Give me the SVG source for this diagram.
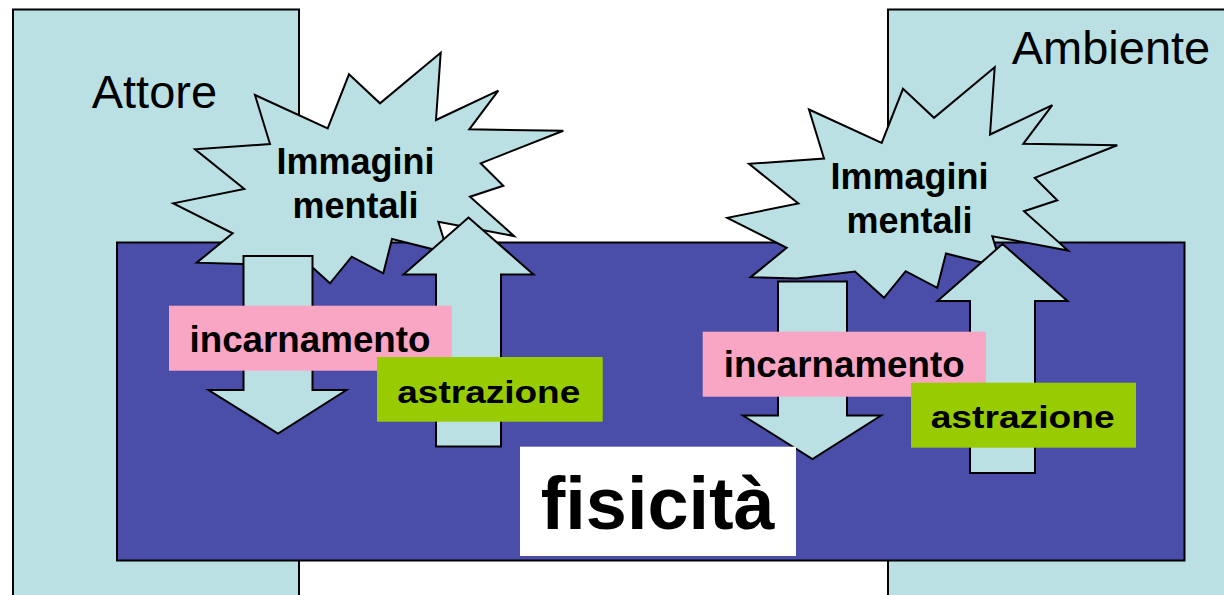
<svg xmlns="http://www.w3.org/2000/svg" xmlns:xlink="http://www.w3.org/1999/xlink" width="1224" height="595" viewBox="0 0 1224 595">
<style>
.cy{fill:#BBE0E3;stroke:#000;stroke-width:2;stroke-linejoin:miter}
.pu{fill:#4A4EA8;stroke:#000;stroke-width:2}
.pink{fill:#F8A6C3}
.green{fill:#99CC00}
.t{font-family:"Liberation Sans",Arial,sans-serif;fill:#000}
.b{font-weight:bold}
</style>
<defs>
<polygon id="star" points="255,95 327.7,128.3 349,74.3 380,103.3 440.7,52.7 436,120 498.3,90.7 469.3,129.3 563.3,130.7 480.7,163.3 503.3,185.7 470,196.7 514,236 438.3,221.7 448,253 392,239 383.3,273.3 351.7,256.7 330,283.3 301,257 243,264 196.7,262.7 232.7,233.3 173.3,203.3 244.3,189 195,149.3 270,144"/>
<polygon id="down" points="243.5,256 312.5,256 312.5,390 346.5,390 278,433.5 208.5,390 243.5,390"/>
<polygon id="up" points="468.5,217.5 533.5,274.5 501,274.5 501,446.5 436,446.5 436,274.5 403.5,274.5"/>
</defs>
<rect width="1224" height="595" fill="#fff"/>
<g id="attore">
<rect class="cy" x="13" y="9.5" width="286" height="600"/>
<text class="t" x="91.7" y="108.3" font-size="47">Attore</text>
</g>
<g id="ambiente">
<rect class="cy" x="888" y="9.5" width="340" height="600"/>
<text class="t" x="1011.7" y="64" font-size="47">Ambiente</text>
</g>
<g id="fisicita-area">
<rect class="pu" x="117" y="242.5" width="1067.5" height="318"/>
</g>
<g id="immagini-left">
<use href="#star" xlink:href="#star" class="cy"/>
<text class="t b" x="355.5" y="174" font-size="36" text-anchor="middle">Immagini</text>
<text class="t b" x="355.5" y="218.3" font-size="36" text-anchor="middle">mentali</text>
</g>
<g id="immagini-right" transform="translate(554,14.5)">
<use href="#star" xlink:href="#star" class="cy"/>
<text class="t b" x="355.5" y="174" font-size="36" text-anchor="middle">Immagini</text>
<text class="t b" x="355.5" y="218.3" font-size="36" text-anchor="middle">mentali</text>
</g>
<g id="connectors">
<use href="#down" xlink:href="#down" class="cy"/>
<use href="#up" xlink:href="#up" class="cy"/>
<use href="#down" xlink:href="#down" class="cy" transform="translate(534.5,25.5)"/>
<use href="#up" xlink:href="#up" class="cy" transform="translate(534,26.5)"/>
</g>
<g id="incarnamento-left">
<rect class="pink" x="169" y="305.7" width="282.7" height="65"/>
<text class="t b" x="310" y="351.7" font-size="36" text-anchor="middle" textLength="241" lengthAdjust="spacingAndGlyphs">incarnamento</text>
</g>
<g id="astrazione-left">
<rect class="green" x="377" y="357" width="225.7" height="64.7"/>
<text class="t b" x="397.3" y="403.3" font-size="32" textLength="183" lengthAdjust="spacingAndGlyphs">astrazione</text>
</g>
<g id="incarnamento-right">
<rect class="pink" x="702.7" y="331.7" width="283.3" height="65"/>
<text class="t b" x="844.2" y="377.3" font-size="36" text-anchor="middle" textLength="241" lengthAdjust="spacingAndGlyphs">incarnamento</text>
</g>
<g id="astrazione-right">
<rect class="green" x="911" y="382.7" width="225" height="65"/>
<text class="t b" x="930.7" y="428.3" font-size="32" textLength="184" lengthAdjust="spacingAndGlyphs">astrazione</text>
</g>
<g id="fisicita">
<rect fill="#fff" x="520" y="446.7" width="276" height="109.3"/>
<text class="t b" x="540.7" y="529.3" font-size="75" textLength="234" lengthAdjust="spacingAndGlyphs">fisicità</text>
</g>
</svg>
